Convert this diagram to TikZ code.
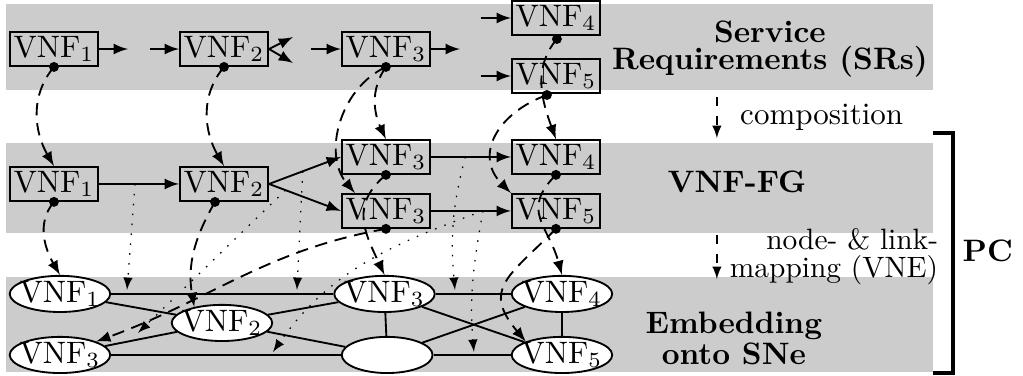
\documentclass[tikz,border=0pt]{standalone}
\usepackage{amsmath}
\usepackage{amssymb}
\usepackage{tikz}
\usetikzlibrary{shapes.geometric}
\usetikzlibrary{arrows}

\tikzset{
  layer/.style={fill=gray!40, draw=none},
  vnfBox/.style={draw, semithick, rectangle, inner sep=1pt, minimum width=1cm, minimum height=0.385cm},
  vnfNode/.style={draw, semithick, ellipse, fill=white, inner sep=-4pt, minimum width=1.14cm, minimum height=0.41cm},
  nodeMap/.style={->, semithick, dash pattern=on 4pt off 2.5pt},
  linkMap/.style={->, dash pattern=on 0.5pt off 2.7pt},
  vLink/.style={semithick}
}

\begin{document}
\begin{tikzpicture}[scale=1, >=latex]
      \useasboundingbox (0,0) rectangle (11.6,4.263);
      %layers
      \fill[layer] (0.068,3.243) rectangle (10.578,4.218);
      \fill[layer] (0.068,1.621) rectangle (10.578,2.642);
      \fill[layer] (0.068,0.045) rectangle (10.578,1.122);
      %service requirements
      \node[vnfBox] (srOne) at (0.612,3.707) {VNF$_1$};
      \node[vnfBox] (srTwo) at (2.540,3.707) {VNF$_2$};
      \node[vnfBox] (srThree) at (4.376,3.707) {VNF$_3$};
      \node[vnfBox] (srFour) at (6.304,4.059) {VNF$_4$};
      \node[vnfBox] (srFive) at (6.304,3.401) {VNF$_5$};
      \coordinate (srOneOut) at (1.451,3.707);
      \coordinate (srTwoIn) at (1.701,3.707);
      \coordinate (srTwoOutA) at (3.322,3.843);
      \coordinate (srTwoOutB) at (3.322,3.549);
      \coordinate (srThreeIn) at (3.526,3.707);
      \coordinate (srThreeOut) at (5.215,3.707);
      \coordinate (srFourIn) at (5.454,4.059);
      \coordinate (srFiveIn) at (5.454,3.401);
      \coordinate (srFourDot) at (6.315,3.821);
      \coordinate (srFiveDot) at (6.202,3.186);
      \draw[vLink,->] (srOne.east) -- (srOneOut);
      \draw[vLink,->] (srTwoIn) -- (srTwo.west);
      \draw[vLink,->] (srTwo.east) -- (srTwoOutA);
      \draw[vLink,->] (srTwo.east) -- (srTwoOutB);
      \draw[vLink,->] (srThreeIn) -- (srThree.west);
      \draw[vLink,->] (srThree.east) -- (srThreeOut);
      \draw[vLink,->] (srFourIn) -- (srFour.west);
      \draw[vLink,->] (srFiveIn) -- (srFive.west);
      %forwarding graph
      \node[vnfBox] (fgOne) at (0.612,2.177) {VNF$_1$};
      \node[vnfBox] (fgTwo) at (2.540,2.177) {VNF$_2$};
      \node[vnfBox] (fgThreeU) at (4.376,2.483) {VNF$_3$};
      \node[vnfBox] (fgThreeL) at (4.376,1.871) {VNF$_3$};
      \node[vnfBox] (fgFour) at (6.304,2.483) {VNF$_4$};
      \node[vnfBox] (fgFive) at (6.304,1.871) {VNF$_5$};
      \coordinate (fgTwoDot) at (2.438,1.973);
      \draw[vLink,->] (fgOne.east) -- coordinate[pos=0.45] (linkOneTwo) (fgTwo.west);
      \draw[vLink,->] (fgTwo.east) -- coordinate[pos=0.47] (linkTwoThreeU) (fgThreeU.west);
      \draw[vLink,->] (fgTwo.east) -- coordinate[pos=0.23] (linkTwoThreeL) (fgThreeL.west);
      \draw[vLink,->] (fgThreeU.east) -- coordinate[pos=0.43] (linkThreeFour) (fgFour.west);
      \draw[vLink,->] (fgThreeL.east) -- coordinate[pos=0.65] (linkThreeFive) (fgFive.west);
      %substrate
      \node[vnfNode] (snOne) at (0.680,0.930) {VNF$_1$};
      \node[vnfNode] (snThreeL) at (0.680,0.238) {VNF$_3$};
      \node[vnfNode] (snTwo) at (2.517,0.601) {VNF$_2$};
      \node[vnfNode] (snThree) at (4.360,0.930) {VNF$_3$};
      \node[vnfNode, minimum width=1.03cm] (snEmpty) at (4.390,0.238) {};
      \node[vnfNode] (snFour) at (6.372,0.930) {VNF$_4$};
      \node[vnfNode] (snFive) at (6.372,0.238) {VNF$_5$};
      \draw[vLink] (snOne) -- (snThree);
      \draw[vLink] (snOne) -- (snTwo);
      \draw[vLink] (snThreeL) -- (snTwo);
      \draw[vLink] (snThreeL) -- (snEmpty);
      \draw[vLink] (snTwo) -- (snThree);
      \draw[vLink] (snTwo) -- (snEmpty);
      \draw[vLink] (snThree) -- (snFour);
      \draw[vLink] (snThree) -- (snEmpty);
      \draw[vLink] (snThree) -- (snFive);
      \draw[vLink] (snEmpty) -- (snFour);
      \draw[vLink] (snEmpty) -- (snFive);
      \draw[vLink] (snFour) -- (snFive);
      %link mapping
      \coordinate (linkEndA) at (1.440,0.975);
      \coordinate (linkEndB) at (1.565,0.488);
      \coordinate (linkEndC) at (3.367,0.975);
      \coordinate (linkEndD) at (5.159,0.975);
      \coordinate (linkEndE) at (3.095,0.272);
      \coordinate (linkEndF) at (5.374,0.272);
      \draw[linkMap] (linkOneTwo) -- (linkEndA);
      \draw[linkMap] (linkTwoThreeU) -- (linkEndC);
      \draw[linkMap] (linkTwoThreeL) -- (linkEndB);
      \draw[linkMap] (linkThreeFour) to[out=255,in=95] (linkEndD);
      \draw[linkMap] (linkThreeFive) to[out=200,in=55] (linkEndE);
      \draw[linkMap] (linkThreeFive) to[out=260,in=95] (linkEndF);
      %node mapping
      \draw[nodeMap] (srOne.south) to[out=230,in=120] (fgOne.north);
      \draw[nodeMap] (srTwo.south) to[out=230,in=120] (fgTwo.north);
      \draw[nodeMap] (srThree.south) to[out=235,in=115] (fgThreeU.north);
      \draw[nodeMap] (srThree.south) to[out=205,in=130] (fgThreeL.150);
      \draw[nodeMap] (srFourDot) to[out=230,in=110] (fgFour.north);
      \draw[nodeMap] (srFiveDot) to[out=200,in=135,looseness=1.3] (fgFive.north west);
      \draw[nodeMap] (fgOne.south) to[out=230,in=120] (snOne.north);
      \draw[nodeMap] (fgTwoDot) to[out=240,in=100] (snTwo.150);
      \draw[nodeMap] (fgThreeU.south) to[out=220,in=115,looseness=1.2] (snThree.north);
      \draw[nodeMap] (fgThreeL.south) to[out=190,in=20] (snThreeL.north east);
      \draw[nodeMap] (fgFour.south) to[out=225,in=105,looseness=1.3] (snFour.north);
      \draw[nodeMap] (fgFive.south) to[out=225,in=130,looseness=1.5] (snFive.north west);
      %points
      \foreach \p in {srOne.south,srTwo.south,srThree.south,srFourDot,srFiveDot,fgOne.south,fgTwoDot,fgThreeU.south,fgThreeL.south,fgFour.south,fgFive.south}
        \fill (\p) circle (1.6pt);
      %labels
      \node[font=\bfseries, align=center] (srLabel) at (8.730,3.707) {Service\\[-3pt]Requirements (SRs)};
      \node[font=\bfseries] (fgLabel) at (8.356,2.200) {VNF-FG};
      \node[font=\bfseries, align=center] (snLabel) at (8.322,0.431) {Embedding\\[-2pt]onto SNe};
      \node[font=\bfseries] (pcLabel) at (11.200,1.417) {PC};
      \coordinate (compTop) at (8.129,3.163);
      \coordinate (compBot) at (8.129,2.698);
      \coordinate (vneTop) at (8.129,1.599);
      \coordinate (vneBot) at (8.129,1.100);
      \draw[->,dashed] (compTop) -- node[right=4pt] (compLabel) {composition} (compBot);
      \draw[->,dashed] (vneTop) -- node[right=3pt, inner sep=1pt, align=right, font=\fontsize{9.5}{11}\selectfont] (vneLabel) {node- \& link-\\[-2pt]mapping (VNE)} (vneBot);
      %PC
      \draw[line width=1.2pt] (10.578,2.755) -- (10.805,2.755) -- (10.805,0.034) -- (10.578,0.034);
    \end{tikzpicture}
\end{document}
